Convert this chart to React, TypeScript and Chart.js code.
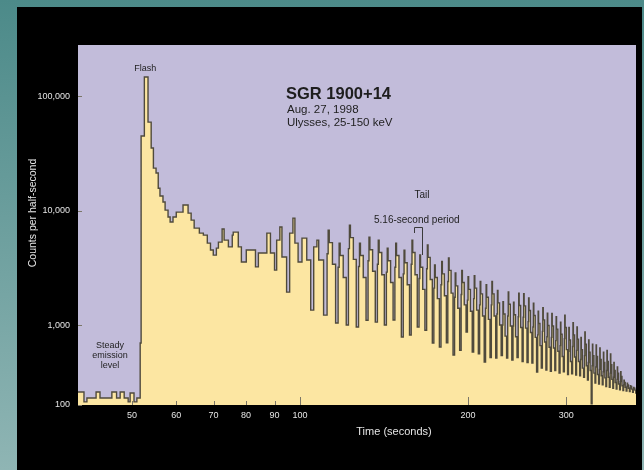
import React, { useEffect, useRef } from 'react';
import { Chart, registerables } from 'chart.js';

Chart.register(...registerables);

// ---------------- data ----------------
const X_MIN = 40;
const X_MAX = 400;
const Y_MIN = 200;
const Y_MAX = 280000;
const X_TICKS = [50, 60, 70, 80, 90, 100, 200, 300];
const X_MAJOR_TICKS = [100, 200, 300];
const Y_TICK_VALUES = [200, 1000, 10000, 100000];
const Y_TICK_LABELS = ['100', '1,000', '10,000', '100,000'];
const PERIOD = 5.16;
const FLASH_PEAK_TIME = 53.0;

// steady emission before the flash (time s, counts per half-second)
const STEADY_TIMES = [40.0, 41.0, 41.5, 43.1, 43.8, 46.0, 46.9, 47.6, 48.4, 49.2, 49.6, 50.4, 51.0];
const STEADY_COUNTS = [260, 213, 230, 260, 230, 260, 230, 260, 230, 213, 255, 213, 230];

// the giant flash and its decay
const FLASH_TIMES = [51.7, 51.9, 52.6, 53.4, 54.1, 54.6, 55.2, 55.7, 56.1, 56.8, 57.3, 58.0, 58.5, 59.2, 60.0, 61.7, 63.0, 63.8, 64.6, 66.0];
const FLASH_COUNTS = [697, 44800, 147000, 59300, 35200, 23500, 21300, 15700, 13400, 11900, 10100, 8780, 7940, 8780, 9700, 11200, 9500, 8260, 7030, 6360];

// early tail
const EARLY_TAIL_TIMES = [
  67.1, 68.2, 69.1, 69.9, 70.8, 71.4, 72.5, 73.1, 74.4, 75.6, 75.9, 77.5, 78.5, 80.1, 83.2, 84.2,
  87.2, 88.5, 90.0, 90.8, 92.0, 92.8, 94.6, 95.8, 97.1, 97.9, 99.2, 100.8, 102.8, 104.5, 105.8,
  107.2, 108.0, 110.2,
];
const EARLY_TAIL_COUNTS = [
  6100, 5200, 4520, 4080, 4700, 5300, 6900, 5520, 4820, 6100, 6490, 4820, 3550, 4520, 3220, 4260,
  6360, 4260, 3020, 5520, 7180, 3930, 1940, 6360, 8600, 5200, 3550, 5750, 3700, 1350, 4820,
  5520, 3700, 1220,
];

// pulsating tail (5.16 s period)
const PULSE_TIMES = [
  111.8, 112.3, 112.8, 114.3, 115.8,
  117.0, 117.5, 118.0, 119.5, 121.0,
  122.1, 122.6, 123.1, 124.6, 126.1,
  127.3, 127.8, 128.3, 129.8, 131.3,
  132.4, 132.9, 133.4, 134.9, 136.4,
  137.6, 138.1, 138.6, 140.1, 141.6,
  142.8, 143.3, 143.8, 145.3, 146.8,
  147.9, 148.4, 148.9, 150.4, 151.9,
  153.1, 153.6, 154.1, 155.6, 157.1,
  158.2, 158.7, 159.2, 160.7, 162.2,
  163.4, 163.9, 164.4, 165.9, 167.4,
  168.6, 169.1, 169.6, 171.1, 172.6,
  173.7, 174.2, 174.7, 176.2, 177.7,
  178.9, 179.4, 179.9, 181.4, 182.9,
  184.0, 184.5, 185.0, 186.5, 188.0,
  189.2, 189.7, 190.2, 191.7, 193.2,
  194.4, 194.9, 195.4, 196.9, 198.4,
  199.5, 200.0, 200.5, 202.0, 203.5,
  204.7, 205.2, 205.7, 207.2, 208.7,
  209.8, 210.3, 210.8, 212.3, 213.8,
  215.0, 215.5, 216.0, 217.5, 219.0,
  220.2, 220.7, 221.2, 222.7, 224.2,
  225.3, 225.8, 226.3, 227.8, 229.3,
  230.5, 231.0, 231.5, 233.0, 234.5,
  235.6, 236.1, 236.6, 238.1, 239.6,
  240.8, 241.3, 241.8, 243.3, 244.8,
  246.0, 246.5, 247.0, 248.5, 250.0,
  251.1, 251.6, 252.1, 253.6, 255.1,
  256.3, 256.8, 257.3, 258.8, 260.3,
  261.4, 261.9, 262.4, 263.9, 265.4,
  266.6, 267.1, 267.6, 269.1, 270.6,
  271.8, 272.3, 272.8, 274.3, 275.8,
  276.9, 277.4, 277.9, 279.4, 280.9,
  282.1, 282.6, 283.1, 284.6, 286.1,
  287.2, 287.7, 288.2, 289.7, 291.2,
  292.4, 292.9, 293.4, 294.9, 296.4,
  297.6, 298.1, 298.6, 300.1, 301.6,
  302.7, 303.2, 303.7, 305.2, 306.7,
  307.9, 308.4, 308.9, 310.4, 311.9,
  313.0, 313.5, 314.0, 315.5, 317.0,
  318.2, 318.7, 319.2, 320.7, 322.2,
  323.4, 323.9, 324.4, 325.9, 327.4,
  328.5, 329.0, 329.5, 331.0, 332.5,
  333.7, 334.2, 334.7, 336.2, 337.7,
  338.8, 339.3, 339.8, 341.3, 342.8,
  344.0, 344.5, 345.0, 346.5, 348.0,
  349.2, 349.7, 350.2, 351.7, 353.2,
  354.3, 354.8, 355.3, 356.8, 358.3,
  359.5, 360.0, 360.5, 362.0, 363.5,
  364.6, 365.1, 365.6, 367.1, 368.6,
  369.8, 370.3, 370.8, 372.3, 373.8,
  375.0, 375.5, 376.0, 377.5, 379.0,
  380.1, 380.6, 381.1, 382.6, 384.1,
  385.3, 385.8, 386.3, 387.8, 389.3,
  390.4, 390.9, 391.4, 392.9, 394.4,
  395.6, 396.1, 396.6, 398.1, 399.6,
  400.0,
];
const PULSE_COUNTS = [
  4200, 6750, 5250, 3400, 1040,
  3200, 5200, 4050, 2600, 1000,
  4650, 7470, 5800, 3750, 960,
  3250, 5200, 4050, 2600, 1100,
  3650, 5860, 4550, 2950, 1060,
  3400, 5520, 4300, 2750, 1000,
  2900, 4700, 3650, 2350, 1105,
  3200, 5200, 4050, 2600, 785,
  2800, 4500, 3500, 2250, 818,
  3400, 5500, 4300, 2750, 960,
  2550, 4100, 3200, 2050, 900,
  3100, 5000, 3900, 2500, 697,
  2100, 3350, 2600, 1700, 643,
  2250, 3600, 2800, 1800, 700,
  2400, 3850, 3000, 1900, 547,
  1750, 2850, 2200, 1400, 600,
  1850, 3000, 2350, 1500, 869,
  1650, 2650, 2050, 1320, 581,
  1700, 2700, 2100, 1350, 560,
  1500, 2400, 1870, 1200, 475,
  1400, 2250, 1750, 1120, 520,
  1500, 2400, 1870, 1200, 515,
  1250, 2000, 1560, 1000, 540,
  1000, 1600, 1250, 800, 515,
  1200, 1950, 1520, 980, 495,
  980, 1580, 1230, 790, 520,
  1180, 1900, 1480, 950, 480,
  1170, 1880, 1470, 940, 470,
  1070, 1720, 1340, 860, 466,
  960, 1550, 1210, 780, 389,
  820, 1320, 1030, 660, 420,
  880, 1420, 1110, 710, 405,
  790, 1270, 990, 640, 395,
  780, 1260, 980, 630, 400,
  730, 1180, 920, 590, 380,
  660, 1060, 830, 530, 390,
  760, 1220, 950, 610, 370,
  590, 950, 740, 480, 375,
  650, 1050, 820, 525, 366,
  600, 960, 750, 480, 360,
  500, 780, 610, 420, 350,
  540, 870, 680, 440, 330,
  470, 740, 580, 400, 205,
  440, 680, 540, 380, 311,
  430, 670, 530, 370, 305,
  410, 630, 500, 360, 300,
  390, 580, 470, 345, 290,
  400, 600, 480, 350, 285,
  380, 560, 450, 335, 280,
  350, 470, 400, 315, 275,
  335, 430, 380, 305, 272,
  320, 390, 355, 295, 268,
  300, 330, 315, 285, 265,
  290, 310, 300, 280, 262,
  282, 295, 290, 275, 258,
  275, 285, 280, 270, 255,
  255,
];

const BRACKET_START_TIME = 159.9;

// ---------------- styling ----------------
const FONT = '"Liberation Sans", Arial, Helvetica, sans-serif';
const LIGHT = '#e4e4e4';
const DARK = '#1e1e1e';

function toPoints(times: number[], counts: number[]) {
  return times.map((t, i) => ({ x: t, y: counts[i] }));
}

const decorPlugin = {
  id: 'decor',
  beforeDraw(chart: any) {
    const { ctx, width, height, chartArea: a } = chart;
    ctx.save();
    const g = ctx.createLinearGradient(0, 0, 0, height);
    g.addColorStop(0, '#4c8a89');
    g.addColorStop(1, '#8fb5b4');
    ctx.fillStyle = g;
    ctx.fillRect(0, 0, width, height);
    ctx.fillStyle = '#000';
    ctx.fillRect(17, 7, 625, height - 7);
    ctx.fillStyle = '#c2bcda';
    ctx.fillRect(a.left, a.top, a.right - a.left, a.bottom - a.top);
    ctx.restore();
  },
  afterDatasetsDraw(chart: any) {
    const { ctx, chartArea: a, scales } = chart;
    const xs = scales.x;
    const ys = scales.y;
    ctx.save();
    ctx.strokeStyle = '#7a7668';
    ctx.lineWidth = 1;
    ctx.beginPath();
    X_TICKS.forEach((v) => {
      const px = Math.round(xs.getPixelForValue(v)) + 0.5;
      const len = X_MAJOR_TICKS.includes(v) ? 8 : 4;
      ctx.moveTo(px, a.bottom);
      ctx.lineTo(px, a.bottom - len);
    });
    Y_TICK_VALUES.forEach((v) => {
      const py = Math.round(ys.getPixelForValue(v)) + 0.5;
      ctx.moveTo(a.left, py);
      ctx.lineTo(a.left + 4, py);
    });
    ctx.stroke();

    // annotations
    ctx.fillStyle = DARK;
    ctx.textBaseline = 'middle';
    ctx.textAlign = 'center';
    ctx.font = `9px ${FONT}`;
    ctx.fillText('Flash', xs.getPixelForValue(FLASH_PEAK_TIME) - 1, 69);

    ctx.fillText('Steady', 110, 346);
    ctx.fillText('emission', 110, 356);
    ctx.fillText('level', 110, 366);

    ctx.textAlign = 'left';
    ctx.font = `bold 16.5px ${FONT}`;
    ctx.fillText('SGR 1900+14', 286, 94);
    ctx.font = `11.5px ${FONT}`;
    ctx.fillText('Aug. 27, 1998', 287, 109.5);
    ctx.fillText('Ulysses, 25-150 keV', 287, 123);

    ctx.font = `10px ${FONT}`;
    ctx.textAlign = 'center';
    ctx.fillText('Tail', 422, 195);
    ctx.textAlign = 'left';
    ctx.fillText('5.16-second period', 374, 220);

    const bx1 = Math.round(xs.getPixelForValue(BRACKET_START_TIME)) + 0.5;
    const bx2 = Math.round(xs.getPixelForValue(BRACKET_START_TIME + PERIOD)) + 1.5;
    ctx.strokeStyle = '#3a3a3a';
    ctx.beginPath();
    ctx.moveTo(bx1, 233);
    ctx.lineTo(bx1, 227.5);
    ctx.lineTo(bx2, 227.5);
    ctx.lineTo(bx2, 255);
    ctx.stroke();

    // axis titles
    ctx.fillStyle = LIGHT;
    ctx.font = `11px ${FONT}`;
    ctx.textAlign = 'center';
    ctx.fillText('Time (seconds)', 394, 432);
    ctx.save();
    ctx.translate(33, 213);
    ctx.rotate(-Math.PI / 2);
    ctx.font = `10.5px ${FONT}`;
    ctx.fillText('Counts per half-second', 0, 0);
    ctx.restore();

    ctx.restore();
  },
};

export default function App() {
  const canvasRef = useRef<HTMLCanvasElement | null>(null);

  useEffect(() => {
    const canvas = canvasRef.current;
    if (!canvas) return;
    const points = [
      ...toPoints(STEADY_TIMES, STEADY_COUNTS),
      ...toPoints(FLASH_TIMES, FLASH_COUNTS),
      ...toPoints(EARLY_TAIL_TIMES, EARLY_TAIL_COUNTS),
      ...toPoints(PULSE_TIMES, PULSE_COUNTS),
    ];
    const chart = new Chart(canvas, {
      type: 'line',
      data: {
        datasets: [
          {
            data: points,
            stepped: true,
            borderColor: '#4f4a3c',
            borderWidth: 1.4,
            backgroundColor: '#fce6a2',
            fill: 'start',
            pointRadius: 0,
            tension: 0,
          },
        ],
      },
      options: {
        responsive: false,
        animation: false,
        events: [],
        layout: { padding: { left: 0, right: 8, top: 45, bottom: 0 } },
        plugins: {
          legend: { display: false },
          tooltip: { enabled: false },
          title: { display: false },
        },
        scales: {
          x: {
            type: 'logarithmic',
            min: X_MIN,
            max: X_MAX,
            bounds: 'data',
            grid: { display: false, drawTicks: false },
            border: { display: false },
            afterBuildTicks: (s: any) => {
              s.ticks = X_TICKS.map((v) => ({ value: v }));
            },
            afterFit: (s: any) => {
              s.height = 65;
            },
            ticks: {
              autoSkip: false,
              maxRotation: 0,
              padding: 5,
              color: LIGHT,
              font: { family: FONT, size: 9 },
              callback: (v: any) => String(v),
            },
          },
          y: {
            type: 'logarithmic',
            min: Y_MIN,
            max: Y_MAX,
            bounds: 'data',
            grid: { display: false, drawTicks: false },
            border: { display: false },
            afterBuildTicks: (s: any) => {
              s.ticks = Y_TICK_VALUES.map((v) => ({ value: v }));
            },
            afterFit: (s: any) => {
              s.width = 78;
            },
            ticks: {
              autoSkip: false,
              padding: 8,
              color: LIGHT,
              font: { family: FONT, size: 9 },
              callback: (_v: any, i: number) => Y_TICK_LABELS[i],
            },
          },
        },
      },
      plugins: [decorPlugin],
    } as any);
    return () => chart.destroy();
  }, []);

  return (
    <div style={{ position: 'absolute', left: 0, top: 0, width: 644, height: 470 }}>
      <canvas ref={canvasRef} width={644} height={470} style={{ display: 'block' }} />
    </div>
  );
}
